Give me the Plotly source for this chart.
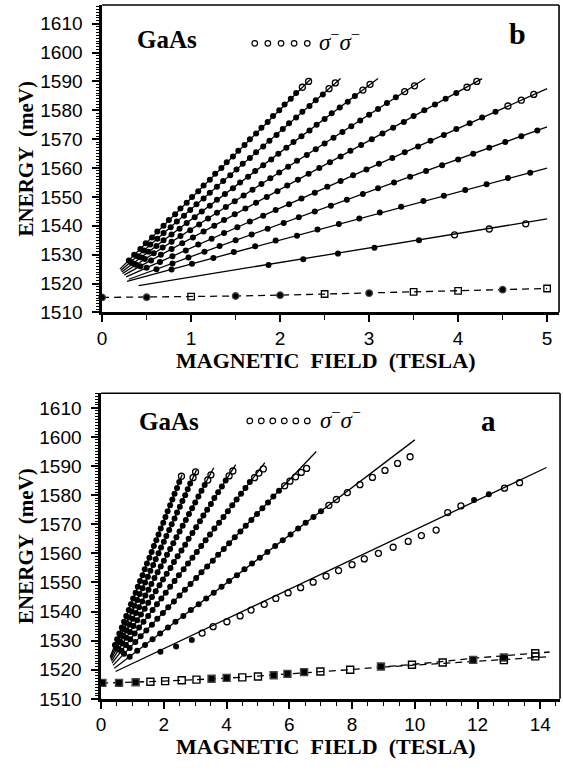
import plotly.graph_objects as go

# ---------------- panel b (top) : 0-5 T ----------------
b_fit_B = [[0.41, 5.0], [0.28, 5.0], [0.30, 5.0], [0.27, 5.0], [0.25, 4.27],
           [0.23, 3.63], [0.22, 3.10], [0.21, 2.68], [0.20, 2.35]]
b_fit_E = [[1519.3, 1542.4], [1520.8, 1560.0], [1521.5, 1574.3], [1522.3, 1587.5], [1523.0, 1591.0],
           [1523.5, 1591.0], [1524.0, 1591.0], [1524.5, 1591.0], [1525.0, 1591.0]]

b1_B = [1.87, 2.26, 2.65, 3.06, 3.56, 3.96, 4.35, 4.76]
b1_E = [1526.4, 1528.4, 1530.4, 1532.4, 1535.0, 1536.9, 1538.9, 1540.7]
b2_B = [0.78, 1.01, 1.25, 1.48, 1.72, 1.95, 2.19, 2.42, 2.66, 2.89, 3.12, 3.36, 3.61, 3.84, 4.08, 4.32, 4.56, 4.81]
b2_E = [1524.9, 1526.9, 1528.9, 1530.9, 1532.9, 1534.9, 1536.6, 1538.7, 1540.6, 1542.5, 1544.6, 1546.6,
        1548.6, 1550.4, 1552.4, 1554.4, 1556.6, 1558.4]
b3_B = [0.61, 0.79, 0.97, 1.15, 1.32, 1.50, 1.68, 1.86, 2.04, 2.21, 2.39, 2.57, 2.75, 2.93, 3.10, 3.28,
        3.46, 3.64, 3.82, 4.00, 4.17, 4.35, 4.53, 4.71, 4.89]
b3_E = [1525, 1527, 1529, 1531, 1533, 1535, 1537, 1539, 1541, 1543, 1545, 1547, 1549, 1551, 1553, 1555,
        1557, 1559, 1561, 1563, 1565, 1567, 1569, 1571, 1573]
b4_B = [0.50, 0.65, 0.79, 0.94, 1.08, 1.23, 1.37, 1.52, 1.66, 1.81, 1.95, 2.10, 2.24, 2.39, 2.53, 2.68,
        2.82, 2.97, 3.11, 3.26, 3.40, 3.55, 3.69, 3.84, 3.98, 4.13, 4.27, 4.42, 4.56, 4.71, 4.85]
b4_E = [1525.5, 1527.5, 1529.5, 1531.5, 1533.5, 1535.5, 1537.5, 1539.5, 1541.5, 1543.5, 1545.5, 1547.5,
        1549.5, 1551.5, 1553.5, 1555.5, 1557.5, 1559.5, 1561.5, 1563.5, 1565.5, 1567.5, 1569.5, 1571.5,
        1573.5, 1575.5, 1577.5, 1579.5, 1581.5, 1583.5, 1585.5]
b5_B = [0.43, 0.55, 0.66, 0.78, 0.90, 1.02, 1.14, 1.26, 1.37, 1.49, 1.61, 1.73, 1.85, 1.97, 2.08, 2.20,
        2.32, 2.44, 2.56, 2.68, 2.79, 2.91, 3.03, 3.15, 3.27, 3.39, 3.50, 3.62, 3.74, 3.86, 3.98, 4.10, 4.21]
b5_E = [1526, 1528, 1530, 1532, 1534, 1536, 1538, 1540, 1542, 1544, 1546, 1548, 1550, 1552, 1554, 1556,
        1558, 1560, 1562, 1564, 1566, 1568, 1570, 1572, 1574, 1576, 1578, 1580, 1582, 1584, 1586, 1588, 1590]
b6_B = [0.38, 0.48, 0.58, 0.68, 0.78, 0.88, 0.99, 1.09, 1.19, 1.29, 1.39, 1.49, 1.59, 1.69, 1.79, 1.89,
        1.99, 2.09, 2.19, 2.30, 2.40, 2.50, 2.60, 2.70, 2.80, 2.90, 3.00, 3.10, 3.20, 3.30, 3.40, 3.51]
b6_E = [1526.5, 1528.5, 1530.5, 1532.5, 1534.5, 1536.5, 1538.5, 1540.5, 1542.5, 1544.5, 1546.5, 1548.5,
        1550.5, 1552.5, 1554.5, 1556.5, 1558.5, 1560.5, 1562.5, 1564.5, 1566.5, 1568.5, 1570.5, 1572.5,
        1574.5, 1576.5, 1578.5, 1580.5, 1582.5, 1584.5, 1586.5, 1588.5]
b7_B = [0.35, 0.44, 0.52, 0.61, 0.69, 0.78, 0.87, 0.95, 1.04, 1.12, 1.21, 1.29, 1.38, 1.47, 1.55, 1.64,
        1.72, 1.81, 1.90, 1.98, 2.07, 2.15, 2.24, 2.33, 2.41, 2.50, 2.58, 2.67, 2.76, 2.84, 2.93, 3.01]
b7_E = [1527, 1529, 1531, 1533, 1535, 1537, 1539, 1541, 1543, 1545, 1547, 1549, 1551, 1553, 1555, 1557,
        1559, 1561, 1563, 1565, 1567, 1569, 1571, 1573, 1575, 1577, 1579, 1581, 1583, 1585, 1587, 1589]
b8_B = [0.32, 0.40, 0.47, 0.54, 0.62, 0.69, 0.77, 0.84, 0.92, 0.99, 1.06, 1.14, 1.21, 1.29, 1.36, 1.44,
        1.51, 1.58, 1.66, 1.73, 1.81, 1.88, 1.96, 2.03, 2.10, 2.18, 2.25, 2.33, 2.40, 2.48, 2.55, 2.62]
b8_E = [1527.5, 1529.5, 1531.5, 1533.5, 1535.5, 1537.5, 1539.5, 1541.5, 1543.5, 1545.5, 1547.5, 1549.5,
        1551.5, 1553.5, 1555.5, 1557.5, 1559.5, 1561.5, 1563.5, 1565.5, 1567.5, 1569.5, 1571.5, 1573.5,
        1575.5, 1577.5, 1579.5, 1581.5, 1583.5, 1585.5, 1587.5, 1589.5]
b9_B = [0.30, 0.36, 0.43, 0.49, 0.56, 0.62, 0.69, 0.75, 0.82, 0.88, 0.95, 1.01, 1.08, 1.14, 1.21, 1.27,
        1.34, 1.40, 1.47, 1.53, 1.60, 1.66, 1.73, 1.79, 1.86, 1.92, 1.99, 2.05, 2.12, 2.18, 2.25, 2.32]
b9_E = [1528, 1530, 1532, 1534, 1536, 1538, 1540, 1542, 1544, 1546, 1548, 1550, 1552, 1554, 1556, 1558,
        1560, 1562, 1564, 1566, 1568, 1570, 1572, 1574, 1576, 1578, 1580, 1582, 1584, 1586, 1588, 1590]
b_pts_B = [b1_B, b2_B, b3_B, b4_B, b5_B, b6_B, b7_B, b8_B, b9_B]
b_pts_E = [b1_E, b2_E, b3_E, b4_E, b5_E, b6_E, b7_E, b8_E, b9_E]
b_open_tail = [3, 0, 0, 3, 2, 2, 2, 2, 2]

b_dash_B = [0, 0.5, 1.0, 1.5, 2.0, 2.5, 3.0, 3.5, 4.0, 4.5, 5.0]
b_dash_E = [1515.2, 1515.3, 1515.5, 1515.7, 1516.0, 1516.4, 1516.7, 1517.1, 1517.5, 1517.9, 1518.3]
b_dash_kind = ['f', 'f', 's', 'f', 'f', 's', 'f', 's', 's', 'f', 's']

# ---------------- panel a (bottom) : 0-14 T ----------------
a_fit_B = [[0.46, 14.2], [0.42, 10.0], [0.38, 6.86], [0.35, 5.22], [0.33, 4.29],
           [0.31, 3.59], [0.30, 3.04], [0.29, 2.58]]
a_fit_E = [[1519.4, 1589.5], [1520.5, 1599.0], [1521.5, 1595.0], [1522.3, 1591.2], [1523.0, 1590.5],
           [1523.5, 1589.4], [1524.0, 1588.6], [1524.5, 1587.0]]

a1_B = [1.89, 2.39, 2.89, 3.22, 3.57, 4.01, 4.43, 4.78, 5.20, 5.57, 5.96, 6.36, 6.76, 7.17, 7.57, 8.00,
        8.39, 8.84, 9.31, 9.79, 10.21, 10.68, 11.05, 11.47, 11.89, 12.36, 12.86, 13.34]
a1_E = [1526.2, 1528.0, 1530.2, 1532.6, 1534.8, 1536.5, 1538.5, 1540.5, 1542.5, 1544.5, 1546.4, 1548.2,
        1550.1, 1552.2, 1554.1, 1556.1, 1558.1, 1560.0, 1562.1, 1564.1, 1566.1, 1568.0, 1574.0, 1576.3,
        1578.3, 1580.3, 1582.4, 1584.3]
a1_filled = [0, 1, 2, 24, 25]
a2_B = [0.91, 1.15, 1.40, 1.64, 1.88, 2.13, 2.37, 2.62, 2.86, 3.11, 3.35, 3.59, 3.84, 4.08, 4.33, 4.57,
        4.81, 5.06, 5.30, 5.55, 5.79, 6.04, 6.28, 6.52, 6.77, 7.01, 7.26, 7.50,
        7.85, 8.25, 8.65, 9.05, 9.45, 9.85]
a2_E = [1524.5, 1526.5, 1528.5, 1530.5, 1532.5, 1534.5, 1536.5, 1538.5, 1540.5, 1542.5, 1544.5, 1546.5,
        1548.5, 1550.5, 1552.5, 1554.5, 1556.5, 1558.5, 1560.5, 1562.5, 1564.5, 1566.5, 1568.5, 1570.5,
        1572.5, 1574.5, 1576.5, 1578.5,
        1580.9, 1583.6, 1586.1, 1588.5, 1590.9, 1593.2]
a3_B = [0.73, 0.91, 1.09, 1.26, 1.44, 1.62, 1.79, 1.97, 2.14, 2.32, 2.50, 2.67, 2.85, 3.03, 3.20, 3.38,
        3.56, 3.73, 3.91, 4.08, 4.26, 4.44, 4.61, 4.79, 4.97, 5.14, 5.32, 5.49, 5.67, 5.85, 6.02, 6.20, 6.38, 6.55]
a3_E = [1525.5, 1527.5, 1529.5, 1531.5, 1533.5, 1535.5, 1537.5, 1539.5, 1541.5, 1543.5, 1545.5, 1547.5,
        1549.5, 1551.5, 1553.5, 1555.5, 1557.5, 1559.5, 1561.5, 1563.5, 1565.5, 1567.5, 1569.5, 1571.5,
        1573.5, 1575.5, 1577.5, 1579.5, 1581.5, 1583.2, 1584.8, 1586.3, 1587.8, 1589.2]
a4_B = [0.65, 0.79, 0.93, 1.07, 1.21, 1.35, 1.50, 1.64, 1.78, 1.92, 2.06, 2.20, 2.34, 2.48, 2.63, 2.77,
        2.91, 3.05, 3.19, 3.33, 3.47, 3.61, 3.76, 3.90, 4.04, 4.18, 4.32, 4.46, 4.60, 4.74, 4.89, 5.03, 5.17]
a4_E = [1526.5, 1528.5, 1530.5, 1532.5, 1534.5, 1536.5, 1538.5, 1540.5, 1542.5, 1544.5, 1546.5, 1548.5,
        1550.5, 1552.5, 1554.5, 1556.5, 1558.5, 1560.5, 1562.5, 1564.5, 1566.5, 1568.5, 1570.5, 1572.5,
        1574.5, 1576.5, 1578.5, 1580.5, 1582.5, 1584.5, 1586.0, 1587.6, 1589.0]
a5_B = [0.56, 0.68, 0.80, 0.92, 1.03, 1.15, 1.27, 1.39, 1.50, 1.62, 1.74, 1.86, 1.97, 2.09, 2.21, 2.32,
        2.44, 2.56, 2.68, 2.79, 2.91, 3.03, 3.15, 3.26, 3.38, 3.50, 3.61, 3.73, 3.85, 3.97, 4.08, 4.20]
a5_E = [1527, 1529, 1531, 1533, 1535, 1537, 1539, 1541, 1543, 1545, 1547, 1549, 1551, 1553, 1555, 1557,
        1559, 1561, 1563, 1565, 1567, 1569, 1571, 1573, 1575, 1577, 1579, 1581, 1583, 1585, 1586.6, 1588.3]
a6_B = [0.51, 0.61, 0.71, 0.81, 0.91, 1.01, 1.11, 1.21, 1.31, 1.41, 1.51, 1.60, 1.70, 1.80, 1.90, 2.00,
        2.10, 2.20, 2.30, 2.40, 2.50, 2.60, 2.70, 2.80, 2.90, 3.00, 3.10, 3.20, 3.30, 3.40, 3.50]
a6_E = [1527.5, 1529.5, 1531.5, 1533.5, 1535.5, 1537.5, 1539.5, 1541.5, 1543.5, 1545.5, 1547.5, 1549.5,
        1551.5, 1553.5, 1555.5, 1557.5, 1559.5, 1561.5, 1563.5, 1565.5, 1567.5, 1569.5, 1571.5, 1573.5,
        1575.5, 1577.5, 1579.5, 1581.5, 1583.5, 1585.2, 1587.0]
a7_B = [0.47, 0.55, 0.64, 0.72, 0.81, 0.89, 0.98, 1.06, 1.15, 1.23, 1.32, 1.40, 1.49, 1.57, 1.66, 1.74,
        1.83, 1.91, 2.00, 2.08, 2.17, 2.25, 2.34, 2.42, 2.51, 2.59, 2.68, 2.76, 2.84, 2.93, 3.01]
a7_E = [1528, 1530, 1532, 1534, 1536, 1538, 1540, 1542, 1544, 1546, 1548, 1550, 1552, 1554, 1556, 1558,
        1560, 1562, 1564, 1566, 1568, 1570, 1572, 1574, 1576, 1578, 1580, 1582, 1584, 1586, 1588]
a8_B = [0.44, 0.51, 0.58, 0.66, 0.73, 0.80, 0.88, 0.95, 1.02, 1.10, 1.17, 1.24, 1.32, 1.39, 1.46, 1.54,
        1.61, 1.68, 1.76, 1.83, 1.90, 1.98, 2.05, 2.12, 2.20, 2.27, 2.34, 2.42, 2.49, 2.56]
a8_E = [1528.5, 1530.5, 1532.5, 1534.5, 1536.5, 1538.5, 1540.5, 1542.5, 1544.5, 1546.5, 1548.5, 1550.5,
        1552.5, 1554.5, 1556.5, 1558.5, 1560.5, 1562.5, 1564.5, 1566.5, 1568.5, 1570.5, 1572.5, 1574.5,
        1576.5, 1578.5, 1580.5, 1582.5, 1584.5, 1586.5]
a_pts_B = [a1_B, a2_B, a3_B, a4_B, a5_B, a6_B, a7_B, a8_B]
a_pts_E = [a1_E, a2_E, a3_E, a4_E, a5_E, a6_E, a7_E, a8_E]
a_open_tail = [None, 8, 5, 3, 2, 2, 2, 1]

a_dash_up_B = [0, 2, 4, 6, 8, 10, 12, 14.3]
a_dash_up_E = [1515.4, 1516.1, 1517.1, 1518.6, 1520.1, 1521.9, 1524.1, 1526.1]
a_dash_lo_B = [9, 10, 12, 14.3]
a_dash_lo_E = [1520.9, 1521.6, 1523.1, 1524.5]
a_sq_B = [0.04, 0.57, 1.10, 1.57, 2.04, 2.57, 3.04, 3.52, 4.00, 4.50, 5.00, 5.50, 5.94, 6.47, 6.99, 7.94,
          8.92, 9.91, 10.89, 11.86, 12.84, 12.84, 13.84, 13.84]
a_sq_E = [1515.5, 1515.5, 1515.7, 1515.9, 1516.1, 1516.4, 1516.6, 1516.9, 1517.2, 1517.4, 1517.7, 1518.1,
          1518.6, 1519.2, 1519.4, 1520.0, 1521.1, 1521.7, 1522.5, 1523.4, 1524.2, 1523.3, 1525.7, 1524.6]
a_sq_kind = ['f', 'f', 'f', 's', 's', 's', 's', 'f', 'f', 's', 's', 'f', 'f', 'f', 's', 's', 'f', 's', 's',
             'f', 'f', 's', 's', 's']

x_ticks_b = [0, 1, 2, 3, 4, 5]
x_ticks_a = [0, 2, 4, 6, 8, 10, 12, 14]
y_ticks = [1510, 1520, 1530, 1540, 1550, 1560, 1570, 1580, 1590, 1600, 1610]

# ---------------- figure ----------------
W, H = 563, 770
fig = go.Figure()
LW = 1.3
MS = 6


def px(xp):
    return xp / W


def py(yp):
    return 1 - yp / H


def add_fan(xa, ya, fitB, fitE, ptsB, ptsE, open_tail, filled_idx=None):
    for fb, fe in zip(fitB, fitE):
        fig.add_trace(go.Scatter(x=fb, y=fe, mode='lines', line=dict(color='black', width=LW),
                                 xaxis=xa, yaxis=ya, showlegend=False, hoverinfo='skip'))
    for i, (pb, pe) in enumerate(zip(ptsB, ptsE)):
        n = len(pb)
        if open_tail[i] is None:
            fi = set(filled_idx)
        else:
            fi = set(range(n - open_tail[i]))
        fx = [pb[k] for k in range(n) if k in fi]
        fy = [pe[k] for k in range(n) if k in fi]
        ox = [pb[k] for k in range(n) if k not in fi]
        oy = [pe[k] for k in range(n) if k not in fi]
        fig.add_trace(go.Scatter(x=fx, y=fy, mode='markers', marker=dict(symbol='circle', size=MS, color='black'),
                                 xaxis=xa, yaxis=ya, showlegend=False, cliponaxis=False))
        fig.add_trace(go.Scatter(x=ox, y=oy, mode='markers',
                                 marker=dict(symbol='circle-open', size=MS, color='black', line=dict(width=1.3)),
                                 xaxis=xa, yaxis=ya, showlegend=False, cliponaxis=False))


add_fan('x', 'y', b_fit_B, b_fit_E, b_pts_B, b_pts_E, b_open_tail)
add_fan('x2', 'y2', a_fit_B, a_fit_E, a_pts_B, a_pts_E, a_open_tail, a1_filled)

# dashed lines
dash = '7px,5px'
fig.add_trace(go.Scatter(x=b_dash_B, y=b_dash_E, mode='lines', line=dict(color='black', width=LW, dash=dash),
                         xaxis='x', yaxis='y', showlegend=False))
for kind, sym in (('f', 'circle'), ('s', 'square-open')):
    fig.add_trace(go.Scatter(x=[b for b, k in zip(b_dash_B, b_dash_kind) if k == kind],
                             y=[e for e, k in zip(b_dash_E, b_dash_kind) if k == kind],
                             mode='markers', marker=dict(symbol=sym, size=6.5, color='black', line=dict(width=1.3)),
                             xaxis='x', yaxis='y', showlegend=False, cliponaxis=False))
fig.add_trace(go.Scatter(x=a_dash_up_B, y=a_dash_up_E, mode='lines', line=dict(color='black', width=LW, dash=dash),
                         xaxis='x2', yaxis='y2', showlegend=False))
fig.add_trace(go.Scatter(x=a_dash_lo_B, y=a_dash_lo_E, mode='lines', line=dict(color='black', width=LW, dash=dash),
                         xaxis='x2', yaxis='y2', showlegend=False))
for kind, sym in (('f', 'square'), ('s', 'square-open')):
    fig.add_trace(go.Scatter(x=[b for b, k in zip(a_sq_B, a_sq_kind) if k == kind],
                             y=[e for e, k in zip(a_sq_E, a_sq_kind) if k == kind],
                             mode='markers', marker=dict(symbol=sym, size=7, color='black', line=dict(width=1.4)),
                             xaxis='x2', yaxis='y2', showlegend=False, cliponaxis=False))

tickfont = dict(family='Liberation Sans, Arial, sans-serif', size=19, color='black')
common_x = dict(showgrid=False, zeroline=False, showline=True, linecolor='black', linewidth=2.5,
                ticks='outside', ticklen=7, tickwidth=1.6, tickcolor='black', tickfont=tickfont)
common_y = dict(showgrid=False, zeroline=False, showline=True, linecolor='black', linewidth=2.5,
                ticks='outside', ticklen=7, tickwidth=1.6, tickcolor='black', tickfont=tickfont,
                tickvals=y_ticks, ticklabelstandoff=6,
                minor=dict(dtick=1, ticks='outside', ticklen=3.5, tickwidth=1.2, tickcolor='black'))

fig.update_layout(
    width=W, height=H, margin=dict(l=0, r=0, t=0, b=0),
    paper_bgcolor='white', plot_bgcolor='white', showlegend=False,
    xaxis=dict(domain=[px(98), px(559)], range=[0, 5.134], anchor='y', tickvals=x_ticks_b,
               minor=dict(dtick=0.5, ticks='outside', ticklen=5, tickwidth=1.4, tickcolor='black'), **common_x),
    yaxis=dict(domain=[py(317), py(5)], range=[1510, 1616.5], anchor='x', **common_y),
    xaxis2=dict(domain=[px(97), px(560)], range=[0, 14.63], anchor='y2', tickvals=x_ticks_a,
                minor=dict(dtick=0.5, ticks='outside', ticklen=4, tickwidth=1.4, tickcolor='black'), **common_x),
    yaxis2=dict(domain=[py(709), py(399)], range=[1510, 1615], anchor='x2', **common_y),
)

# top/right frame lines (thinner)
for xr, yr in (('x domain', 'y domain'), ('x2 domain', 'y2 domain')):
    fig.add_shape(type='line', xref=xr, yref=yr, x0=0, x1=1, y0=1, y1=1, line=dict(color='black', width=1.6))
    fig.add_shape(type='line', xref=xr, yref=yr, x0=1, x1=1, y0=0, y1=1, line=dict(color='black', width=1.6))

# legend circles
for cx in [252, 265.2, 278.5, 291.7, 305]:
    fig.add_shape(type='circle', xref='paper', yref='paper', xsizemode='pixel', ysizemode='pixel',
                  xanchor=px(cx), yanchor=py(44), x0=-2.8, x1=2.8, y0=-2.8, y1=2.8,
                  line=dict(color='black', width=1.2))
for cx in [247, 258.6, 270.2, 281.8, 293.4, 305]:
    fig.add_shape(type='circle', xref='paper', yref='paper', xsizemode='pixel', ysizemode='pixel',
                  xanchor=px(cx), yanchor=py(427), x0=-2.8, x1=2.8, y0=-2.8, y1=2.8,
                  line=dict(color='black', width=1.2))

serif_b = 'Liberation Serif, Times New Roman, serif'
ann = []


def text(x, y, t, size, angle=0, xanchor='center'):
    ann.append(dict(x=px(x), y=py(y), xref='paper', yref='paper', text=t, showarrow=False,
                    font=dict(family=serif_b, size=size, color='black'), textangle=angle,
                    xanchor=xanchor, yanchor='middle'))


text(163, 40, '<b>GaAs</b>', 25)
text(165, 428, '<b>GaAs</b>', 25)
sig = '<i>σ</i><sup>−</sup><i>σ</i><sup>−</sup>'
text(337, 41, sig, 23)
text(339, 425, sig, 23)
text(517, 34, '<b>b</b>', 30)
text(488, 427, '<b>a</b>', 29)
text(21, 161, '<b>ENERGY  (meV)</b>', 21, angle=-90)
text(21, 554, '<b>ENERGY  (meV)</b>', 21, angle=-90)
text(323, 366, '<b>MAGNETIC  FIELD  (TESLA)</b>', 22)
text(323, 757, '<b>MAGNETIC  FIELD  (TESLA)</b>', 22)
fig.update_layout(annotations=ann)

fig.write_html('out.html')
